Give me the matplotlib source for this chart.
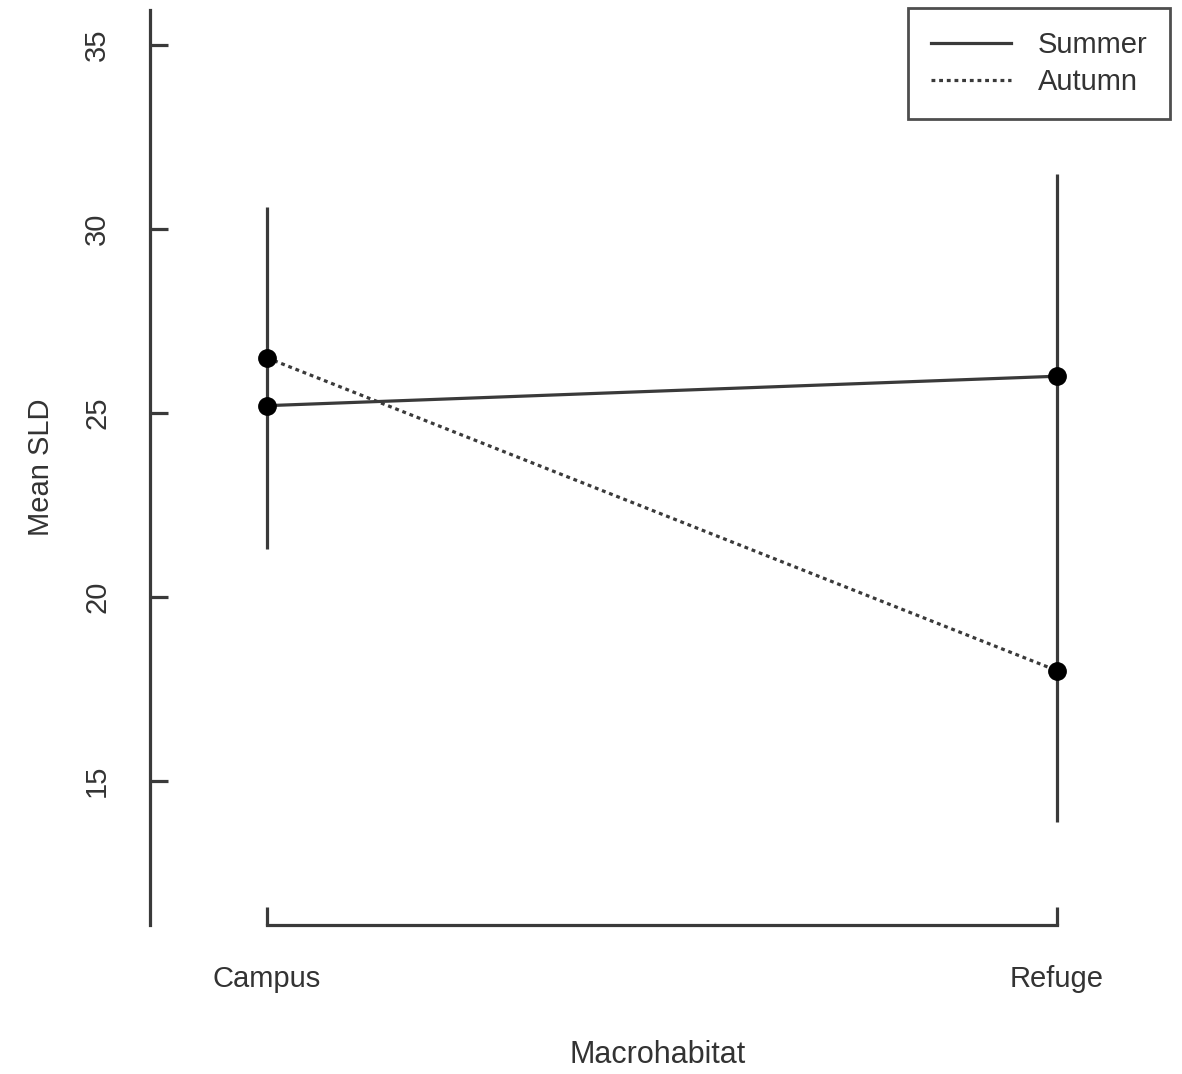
import matplotlib.pyplot as plt
import matplotlib

matplotlib.rcParams['font.family'] = ['Liberation Sans', 'DejaVu Sans']
matplotlib.rcParams['font.size'] = 21

# data
sites = ['Campus', 'Refuge']
x = [1, 2]
summer = [25.2, 26.0]
autumn = [26.5, 18.0]
err_low = [21.3, 13.9]
err_high = [30.6, 31.5]

W, H = 1182, 1074
fig = plt.figure(figsize=(W / 100, H / 100), dpi=100)
ax = fig.add_axes([150 / W, (H - 925) / H, (1174 - 150) / W, (925 - 10) / H])

line_col = '#3a3a3a'
text_col = '#333333'

# error bars
ax.vlines(x, err_low, err_high, color=line_col, lw=2.3)

# interaction lines
ax.plot(x, summer, color=line_col, lw=2.3, ls='-', label='Summer')
ax.plot(x, autumn, color=line_col, lw=2.3, ls=(0, (1.2, 1.2)), label='Autumn')
ax.plot(x, summer, 'o', color='black', ms=12.5, zorder=5)
ax.plot(x, autumn, 'o', color='black', ms=12.5, zorder=5)

ax.set_xlim(0.852, 2.148)
ax.set_ylim(11.09, 35.95)

for s in ['top', 'right']:
    ax.spines[s].set_visible(False)
ax.spines['left'].set_color(line_col)
ax.spines['left'].set_linewidth(2.3)
ax.spines['bottom'].set_color(line_col)
ax.spines['bottom'].set_linewidth(2.3)
ax.spines['bottom'].set_bounds(1, 2)

ax.set_xticks(x)
ax.set_xticklabels(sites)
ax.set_yticks([15, 20, 25, 30, 35])
ax.tick_params(axis='both', direction='in', length=13, width=2.3, color=line_col,
               labelcolor=text_col)
ax.tick_params(axis='x', pad=29)
ax.tick_params(axis='y', pad=28)
for lab in ax.get_yticklabels():
    lab.set_rotation(90)
    lab.set_va('center')

ax.set_ylabel('Mean SLD', color=text_col, labelpad=20)
fig.text(658 / W, 1 - 1055 / H, 'Macrohabitat', ha='center', va='center',
         color=text_col, fontsize=22)

leg = ax.legend(loc='upper right', bbox_to_anchor=(1170 / W, 1 - 8 / H),
                bbox_transform=fig.transFigure, borderaxespad=0,
                fancybox=False, frameon=True, handlelength=2.75,
                handletextpad=0.9, labelspacing=0.33, borderpad=0.78)
leg.get_frame().set_edgecolor('#222222')
leg.get_frame().set_linewidth(2)
for t in leg.get_texts():
    t.set_color(text_col)

plt.savefig('out.png', dpi=100)
